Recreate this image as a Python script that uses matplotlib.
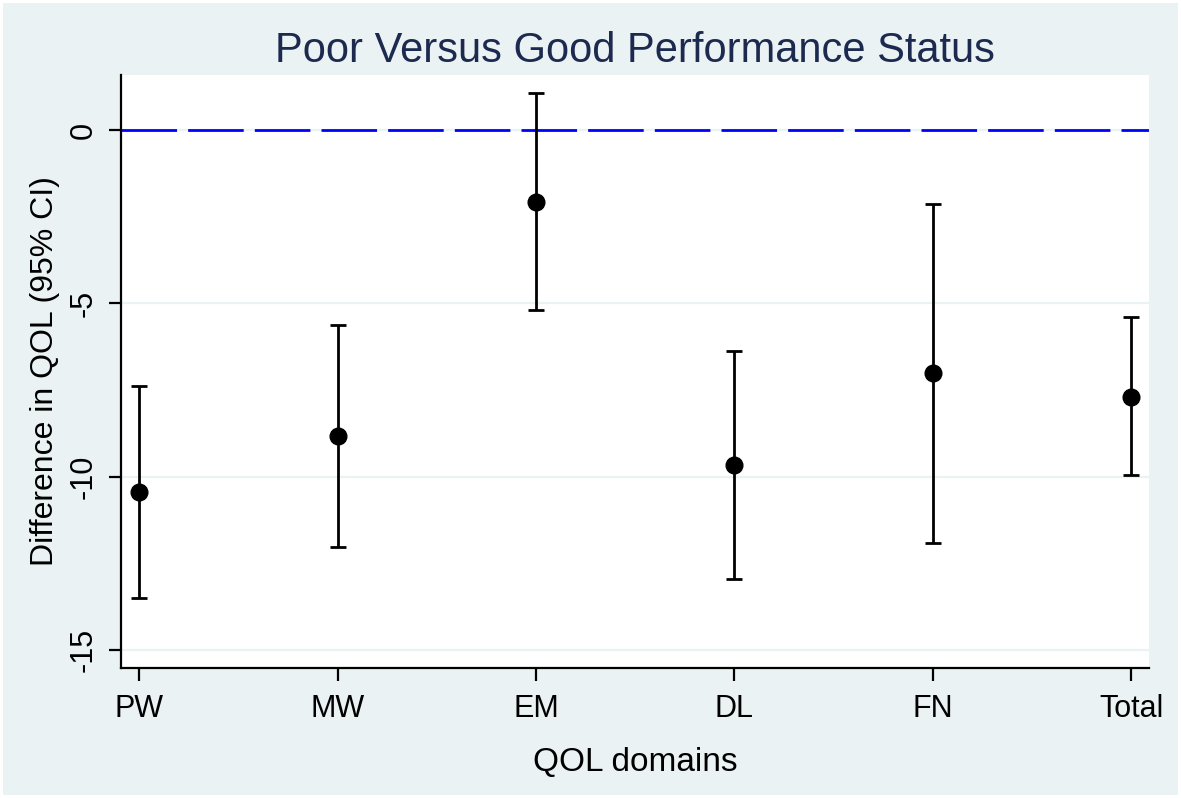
import numpy as np
import matplotlib
matplotlib.use("Agg")
import matplotlib.pyplot as plt

# QOL domain estimates (poor vs good performance status)
domains = ["PW", "MW", "EM", "DL", "FN", "Total"]
estimate = [-10.45, -8.83, -2.07, -9.66, -7.00, -7.71]
ci_lower = [-13.50, -12.04, -5.18, -12.95, -11.90, -9.95]
ci_upper = [-7.38, -5.62, 1.06, -6.36, -2.12, -5.39]

y_ticks = [-15, -10, -5, 0]

bg = "#EAF2F3"
plt.rcParams["font.family"] = ["Liberation Sans", "DejaVu Sans"]

fig = plt.figure(figsize=(11.81, 7.98), dpi=100)
fig.patch.set_facecolor(bg)
fig.patch.set_edgecolor("white")
fig.patch.set_linewidth(3)

ax = fig.add_axes([0.1025, 0.1629, 0.8704, 0.7431])
ax.set_facecolor("white")

x = np.arange(1, len(domains) + 1)
est = np.array(estimate)
lo = np.array(ci_lower)
hi = np.array(ci_upper)

# grid lines
for yt in y_ticks:
    ax.axhline(yt, color=bg, lw=1.6, zorder=0)

# reference line at zero
ax.axhline(0, color="#0000FF", lw=2, dashes=(20, 4), zorder=1)

ax.errorbar(x, est, yerr=[est - lo, hi - est], fmt="o", color="black",
            ecolor="black", elinewidth=2, capsize=5.5, capthick=2,
            markersize=12, zorder=3)

ax.set_xlim(0.909, 6.09)
ax.set_ylim(-15.52, 1.588)
ax.set_xticks(x)
ax.set_xticklabels(domains)
ax.set_yticks(y_ticks)
ax.set_yticklabels([str(v) for v in y_ticks], rotation=90, va="center")

for s in ["top", "right"]:
    ax.spines[s].set_visible(False)
for s in ["left", "bottom"]:
    ax.spines[s].set_linewidth(1.6)
    ax.spines[s].set_color("black")

ax.tick_params(axis="both", direction="out", length=9, width=1.6,
               labelsize=22, pad=7)
ax.tick_params(axis="x", pad=10)

ax.set_title("Poor Versus Good Performance Status", fontsize=30,
             color="#1C2A50", pad=9.5)
ax.set_xlabel("QOL domains", fontsize=24, labelpad=16)
ax.set_ylabel("Difference in QOL (95% CI)", fontsize=23, labelpad=6)

fig.savefig("out.png", dpi=100, facecolor=fig.get_facecolor(),
            edgecolor=fig.patch.get_edgecolor())
